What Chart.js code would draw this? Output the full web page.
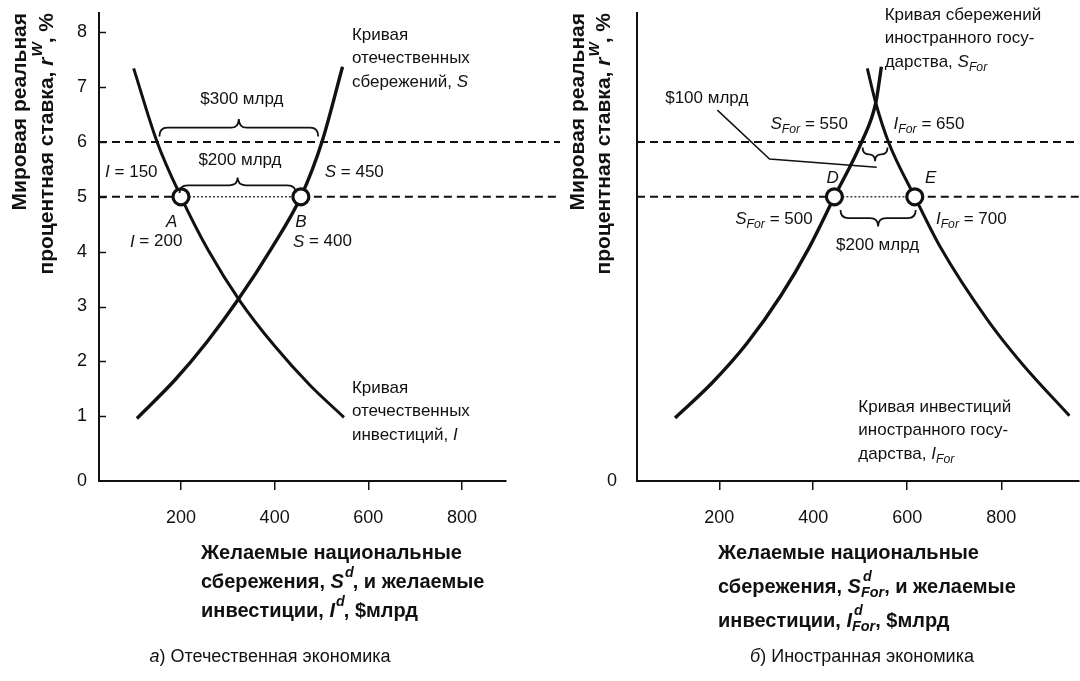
<!DOCTYPE html>
<html><head><meta charset="utf-8">
<script src="https://cdn.jsdelivr.net/npm/chart.js@4"></script>
<style>
html,body{margin:0;padding:0;background:#fff;}
body{width:1080px;height:681px;overflow:hidden;position:relative;}
canvas{position:absolute;top:0;}
</style></head>
<body>
<canvas id="left" width="560" height="681" style="left:0"></canvas>
<canvas id="right" width="530" height="681" style="left:560px"></canvas>
<script>
// ---------- data ----------
const yTickValues = [0, 1, 2, 3, 4, 5, 6, 7, 8];
const xTickValues = [200, 400, 600, 800];
const worldRates = [5, 6];

// (a) domestic economy
const domSavX = [106, 188, 255, 324, 394, 456, 501, 545];
const domSavY = [0.96, 1.67, 2.35, 3.15, 4.07, 5.0, 6.0, 7.37];
const domInvX = [99, 149, 200, 258, 326, 401, 475, 548];
const domInvY = [7.34, 6.0, 5.0, 4.03, 3.10, 2.27, 1.57, 0.98];
const domPointsX = [200, 456];
const domPointsY = [5, 5];

// (b) foreign economy
const forSavX = [106, 185, 259, 332, 391, 445, 503, 533, 545];
const forSavY = [0.97, 1.61, 2.33, 3.21, 4.07, 5.0, 6.0, 6.71, 7.37];
const forInvX = [515, 533, 560, 616, 670, 773, 846, 945];
const forInvY = [7.34, 6.71, 6.0, 5.0, 4.09, 2.73, 1.94, 1.01];
const forPointsX = [445, 616];
const forPointsY = [5, 5];

const Y_MIN = -0.18, Y_MAX = 8.35, X_MIN = 25;
const INK = '#111';
const FAM = '"Liberation Sans", Arial, Helvetica, sans-serif';

function pts(xs, ys) { return xs.map((x, i) => ({ x: x, y: ys[i] })); }
function fnt(size, bold, italic) { return (italic ? 'italic ' : '') + (bold ? 'bold ' : '') + size + 'px ' + FAM; }

function partW(ctx, p, size, bold) {
  if (p.ss) {
    ctx.font = fnt(size * 0.72, bold, true);
    return Math.max(ctx.measureText(p.sup).width, ctx.measureText(p.sub).width);
  }
  const s = (p.sub || p.sup) ? size * 0.72 : size;
  ctx.font = fnt(s, bold, p.i);
  return ctx.measureText(p.t).width;
}
function drawParts(ctx, parts, x, y, size, bold, align) {
  if (typeof parts === 'string') parts = [{ t: parts }];
  let w = 0;
  for (const p of parts) w += partW(ctx, p, size, bold);
  let cx = align === 'center' ? x - w / 2 : align === 'right' ? x - w : x;
  ctx.textAlign = 'left';
  ctx.textBaseline = 'middle';
  ctx.fillStyle = INK;
  for (const p of parts) {
    const pw = partW(ctx, p, size, bold);
    if (p.ss) {
      ctx.font = fnt(size * 0.72, bold, true);
      ctx.fillText(p.sup, cx + 2, y - size * 0.5);
      ctx.fillText(p.sub, cx, y + size * 0.32);
    } else if (p.sub) {
      ctx.font = fnt(size * 0.72, bold, p.i);
      ctx.fillText(p.t, cx, y + size * 0.32);
    } else if (p.sup) {
      ctx.font = fnt(size * 0.72, bold, p.i);
      ctx.fillText(p.t, cx + 1, y - size * 0.45);
    } else {
      ctx.font = fnt(size, bold, p.i);
      ctx.fillText(p.t, cx, y);
    }
    cx += pw;
  }
}

function brace(ctx, x1, x2, yEnd, yTip) {
  const xm = (x1 + x2) / 2;
  const ym = (yEnd + yTip) / 2;
  const r = Math.min(8, (x2 - x1) / 4);
  ctx.beginPath();
  ctx.moveTo(x1, yEnd);
  ctx.quadraticCurveTo(x1, ym, x1 + r, ym);
  ctx.lineTo(xm - r, ym);
  ctx.quadraticCurveTo(xm, ym, xm, yTip);
  ctx.quadraticCurveTo(xm, ym, xm + r, ym);
  ctx.lineTo(x2 - r, ym);
  ctx.quadraticCurveTo(x2, ym, x2, yEnd);
  ctx.stroke();
}

function makePanel(id, cfg) {
  const ctx = document.getElementById(id).getContext('2d');
  const annot = {
    id: 'annot' + id,
    beforeDatasetsDraw(chart) {
      const c = chart.ctx, xs = chart.scales.x, ys = chart.scales.y, a = chart.chartArea;
      c.save();
      c.strokeStyle = INK;
      if (cfg.innerTicks) {
        c.lineWidth = 1.5;
        yTickValues.forEach(v => {
          if (v === 0) return;
          const py = Math.round(ys.getPixelForValue(v)) + 0.5;
          c.beginPath(); c.moveTo(a.left, py); c.lineTo(a.left + 7, py); c.stroke();
        });
      }
      const px1 = xs.getPixelForValue(cfg.pointsX[0]);
      const px2 = xs.getPixelForValue(cfg.pointsX[1]);
      worldRates.forEach(r => {
        const py = ys.getPixelForValue(r);
        c.lineWidth = 2;
        c.setLineDash([8, 5]);
        if (r === cfg.pointsY[0]) {
          c.beginPath(); c.moveTo(a.left, py); c.lineTo(px1, py); c.stroke();
          c.beginPath(); c.moveTo(px2, py); c.lineTo(cfg.dashEnd(chart), py); c.stroke();
          c.lineWidth = 1.2;
          c.setLineDash([2, 2]);
          c.beginPath(); c.moveTo(px1, py); c.lineTo(px2, py); c.stroke();
        } else {
          c.beginPath(); c.moveTo(a.left, py); c.lineTo(cfg.dashEnd(chart), py); c.stroke();
        }
      });
      c.setLineDash([]);
      c.restore();
    },
    afterDraw(chart) {
      const c = chart.ctx, xs = chart.scales.x, ys = chart.scales.y;
      const X = v => xs.getPixelForValue(v), Y = v => ys.getPixelForValue(v);
      c.save();
      c.strokeStyle = INK;
      c.lineWidth = 1.8;
      cfg.braces.forEach(b => brace(c, X(b.x1), X(b.x2), Y(b.yEnd), Y(b.yTip)));
      (cfg.leaders || []).forEach(l => {
        c.lineWidth = 1.5;
        c.beginPath();
        l.forEach((p, i) => i ? c.lineTo(X(p[0]), Y(p[1])) : c.moveTo(X(p[0]), Y(p[1])));
        c.stroke();
      });
      cfg.labels.forEach(l => {
        const lines = l.lines || [l.parts];
        lines.forEach((ln, k) => drawParts(c, ln, X(l.x), Y(l.y) + k * 23.5, 17, false, l.align || 'left'));
      });
      const t = cfg.titles;
      t.yTitle.forEach((ln, k) => {
        c.save();
        c.translate(t.yX[k], 13);
        c.rotate(-Math.PI / 2);
        drawParts(c, ln, 0, 0, 21, true, 'right');
        c.restore();
      });
      t.xTitle.forEach((ln, k) => drawParts(c, ln, t.xX, t.xY[k], 20, true, 'left'));
      drawParts(c, t.caption, t.capX, 657, 18, false, 'center');
      c.restore();
    }
  };

  return new Chart(ctx, {
    type: 'scatter',
    data: {
      datasets: [
        { data: pts(cfg.pointsX, cfg.pointsY), showLine: false, pointRadius: 8, pointHoverRadius: 8,
          pointBackgroundColor: '#fff', pointBorderColor: INK, pointBorderWidth: 3.2, order: 0 },
        { data: pts(cfg.savX, cfg.savY), showLine: true, cubicInterpolationMode: 'monotone', borderColor: INK, borderWidth: 3.4,
          pointRadius: 0, fill: false, order: 1 },
        { data: pts(cfg.invX, cfg.invY), showLine: true, cubicInterpolationMode: 'monotone', borderColor: INK, borderWidth: 3,
          pointRadius: 0, fill: false, order: 2 }
      ]
    },
    options: {
      responsive: false, animation: false, devicePixelRatio: 1,
      layout: { padding: { top: 13, right: cfg.padRight, left: 0, bottom: 0 } },
      plugins: { legend: { display: false }, tooltip: { enabled: false } },
      events: [],
      scales: {
        x: {
          type: 'linear', position: 'bottom', min: X_MIN, max: cfg.xMax,
          afterFit: s => { s.height = 200; s.paddingLeft = 0; s.paddingRight = 0; },
          afterBuildTicks: s => { s.ticks = xTickValues.map(v => ({ value: v })); },
          ticks: { color: INK, font: { size: 18, family: FAM }, padding: 17, maxRotation: 0, autoSkip: false },
          grid: { drawOnChartArea: false, drawTicks: true, tickLength: 9, color: INK, lineWidth: 1.5 },
          border: { color: INK, width: 2 }
        },
        y: {
          type: 'linear', min: Y_MIN, max: Y_MAX,
          afterFit: s => { s.width = cfg.yWidth; s.paddingTop = 0; s.paddingBottom = 0; },
          afterBuildTicks: s => { s.ticks = cfg.yTicks.map(v => ({ value: v === 0 ? Y_MIN : v })); },
          ticks: { color: INK, font: { size: 18, family: FAM }, padding: cfg.yPad, callback: (v, i) => String(cfg.yTicks[i]) },
          grid: { drawOnChartArea: false, drawTicks: false },
          border: { color: INK, width: 2 }
        }
      }
    },
    plugins: [annot]
  });
}

const yTitleParts = [
  'Мировая реальная',
  [{ t: 'процентная ставка, ' }, { t: 'r', i: 1 }, { t: 'W', i: 1, sup: 1 }, { t: ', %' }]
];

makePanel('left', {
  savX: domSavX, savY: domSavY, invX: domInvX, invY: domInvY,
  pointsX: domPointsX, pointsY: domPointsY,
  xMax: 894, yWidth: 99, padRight: 54, yTicks: yTickValues, innerTicks: true, yPad: 12,
  dashEnd: ch => ch.width,
  braces: [
    { x1: 154, x2: 493, yEnd: 6.10, yTip: 6.42 },
    { x1: 197, x2: 445, yEnd: 5.07, yTip: 5.35 }
  ],
  labels: [
    { x: 565, y: 7.95, lines: ['Кривая', 'отечественных', [{ t: 'сбережений, ' }, { t: 'S', i: 1 }]] },
    { x: 330, y: 6.78, parts: '$300 млрд', align: 'center' },
    { x: 326, y: 5.67, parts: '$200 млрд', align: 'center' },
    { x: 38, y: 5.45, parts: [{ t: 'I', i: 1 }, { t: ' = 150' }] },
    { x: 507, y: 5.45, parts: [{ t: 'S', i: 1 }, { t: ' = 450' }] },
    { x: 180, y: 4.54, parts: [{ t: 'A', i: 1 }], align: 'center' },
    { x: 91, y: 4.18, parts: [{ t: 'I', i: 1 }, { t: ' = 200' }] },
    { x: 456, y: 4.54, parts: [{ t: 'B', i: 1 }], align: 'center' },
    { x: 439, y: 4.18, parts: [{ t: 'S', i: 1 }, { t: ' = 400' }] },
    { x: 565, y: 1.51, lines: ['Кривая', 'отечественных', [{ t: 'инвестиций, ' }, { t: 'I', i: 1 }]] }
  ],
  titles: {
    yTitle: yTitleParts, yX: [20, 47],
    xX: 201, xY: [553, 582, 611],
    xTitle: [
      'Желаемые национальные',
      [{ t: 'сбережения, ' }, { t: 'S', i: 1 }, { t: 'd', i: 1, sup: 1 }, { t: ', и желаемые' }],
      [{ t: 'инвестиции, ' }, { t: 'I', i: 1 }, { t: 'd', i: 1, sup: 1 }, { t: ', $млрд' }]
    ],
    caption: [{ t: 'а', i: 1 }, { t: ') Отечественная экономика' }], capX: 270
  }
});

makePanel('right', {
  savX: forSavX, savY: forSavY, invX: forInvX, invY: forInvY,
  pointsX: forPointsX, pointsY: forPointsY,
  xMax: 965, yWidth: 77, padRight: 2, yTicks: [0], innerTicks: false, yPad: 20,
  dashEnd: ch => ch.chartArea.right,
  braces: [
    { x1: 505, x2: 558, yEnd: 5.90, yTip: 5.65 },
    { x1: 458, x2: 618, yEnd: 4.76, yTip: 4.46 }
  ],
  leaders: [[[196, 6.58], [307, 5.69], [535, 5.54]]],
  labels: [
    { x: 552, y: 8.31, lines: ['Кривая сбережений', 'иностранного госу-', [{ t: 'дарства, ' }, { t: 'S', i: 1 }, { t: 'For', i: 1, sub: 1 }]] },
    { x: 85, y: 6.80, parts: '$100 млрд' },
    { x: 309, y: 6.32, parts: [{ t: 'S', i: 1 }, { t: 'For', i: 1, sub: 1 }, { t: ' = 550' }] },
    { x: 571, y: 6.32, parts: [{ t: 'I', i: 1 }, { t: 'For', i: 1, sub: 1 }, { t: ' = 650' }] },
    { x: 441, y: 5.34, parts: [{ t: 'D', i: 1 }], align: 'center' },
    { x: 650, y: 5.34, parts: [{ t: 'E', i: 1 }], align: 'center' },
    { x: 234, y: 4.59, parts: [{ t: 'S', i: 1 }, { t: 'For', i: 1, sub: 1 }, { t: ' = 500' }] },
    { x: 661, y: 4.59, parts: [{ t: 'I', i: 1 }, { t: 'For', i: 1, sub: 1 }, { t: ' = 700' }] },
    { x: 537, y: 4.12, parts: '$200 млрд', align: 'center' },
    { x: 496, y: 1.17, lines: ['Кривая инвестиций', 'иностранного госу-', [{ t: 'дарства, ' }, { t: 'I', i: 1 }, { t: 'For', i: 1, sub: 1 }]] }
  ],
  titles: {
    yTitle: yTitleParts, yX: [18, 44],
    xX: 158, xY: [553, 587, 621],
    xTitle: [
      'Желаемые национальные',
      [{ t: 'сбережения, ' }, { t: 'S', i: 1 }, { ss: 1, sup: 'd', sub: 'For' }, { t: ', и желаемые' }],
      [{ t: 'инвестиции, ' }, { t: 'I', i: 1 }, { ss: 1, sup: 'd', sub: 'For' }, { t: ', $млрд' }]
    ],
    caption: [{ t: 'б', i: 1 }, { t: ') Иностранная экономика' }], capX: 302
  }
});
</script>
</body></html>
